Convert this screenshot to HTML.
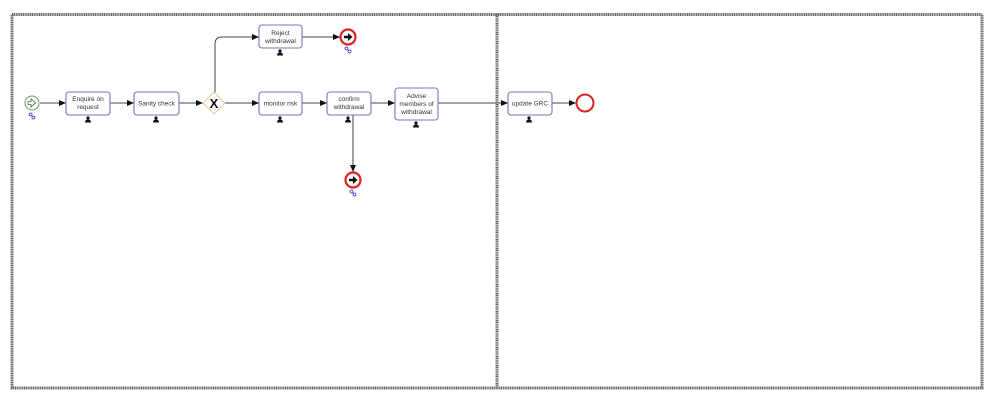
<!DOCTYPE html>
<html><head><meta charset="utf-8"><style>
body{margin:0;background:#fff;width:1000px;height:405px;overflow:hidden}
text{font-family:"Liberation Sans",sans-serif;font-size:6.5px;fill:#333;text-anchor:middle}
</style></head><body>
<svg width="1000" height="405" viewBox="0 0 1000 405">
<defs>
<marker id="a" markerWidth="8" markerHeight="8" refX="7" refY="4" orient="auto" markerUnits="userSpaceOnUse"><path d="M0,1L7,4L0,7z" fill="#111"/></marker>
<g id="p"><circle cx="0" cy="-2" r="1.6" fill="#111"/><path d="M-3,2.5Q-3,-0.5 0,-0.5Q3,-0.5 3,2.5z" fill="#111"/></g>
<g id="lk"><circle cx="-1.5" cy="-1.5" r="1.5" fill="none" stroke="#33c" stroke-width="0.8"/><circle cx="1.5" cy="1.5" r="1.5" fill="none" stroke="#33c" stroke-width="0.8"/></g>
<g id="ee"><circle r="7.5" fill="#fff" stroke="#d22" stroke-width="2.2"/><path d="M-4,-1.3H0V-4L4.5,0L0,4V1.3H-4z" fill="#111"/></g>
</defs>
<rect x="12" y="14.5" width="970" height="373.5" fill="none" stroke="#666" stroke-width="3" stroke-dasharray="1.2 0.6"/>
<line x1="497" y1="14" x2="497" y2="388" stroke="#666" stroke-width="3" stroke-dasharray="1.2 0.6"/>
<g stroke="#444" stroke-width="1" fill="none">
<line x1="40" y1="103" x2="66" y2="103" marker-end="url(#a)"/>
<line x1="110" y1="103" x2="134" y2="103" marker-end="url(#a)"/>
<line x1="179" y1="103" x2="203" y2="103" marker-end="url(#a)"/>
<line x1="225" y1="103" x2="259" y2="103" marker-end="url(#a)"/>
<path d="M215,92V44Q215,37 222,37H259" marker-end="url(#a)"/>
<line x1="302" y1="37" x2="340" y2="37" marker-end="url(#a)"/>
<line x1="302" y1="103" x2="327" y2="103" marker-end="url(#a)"/>
<line x1="371" y1="103" x2="395" y2="103" marker-end="url(#a)"/>
<line x1="353" y1="115" x2="353" y2="172" marker-end="url(#a)"/>
<line x1="438" y1="103" x2="508" y2="103" marker-end="url(#a)"/>
<line x1="552" y1="103" x2="576" y2="103" marker-end="url(#a)"/>
</g>
<circle cx="32" cy="103" r="7" fill="#fff" stroke="#5a5" stroke-width="1"/>
<path d="M28,101.5H31V99L35.5,103L31,107V104.5H28z" fill="#fff" stroke="#555" stroke-width="0.8"/>
<use href="#lk" x="32" y="116"/>
<g fill="#fff" stroke="#7777bb" stroke-width="1.1">
<rect x="66" y="92" width="44" height="23" rx="3"/>
<rect x="134" y="92" width="45" height="23" rx="3"/>
<rect x="259" y="25" width="43" height="23" rx="3"/>
<rect x="259" y="92" width="43" height="23" rx="3"/>
<rect x="327" y="92" width="44" height="23" rx="3"/>
<rect x="395" y="88" width="43" height="32" rx="3"/>
<rect x="508" y="92" width="44" height="23" rx="3"/>
</g>
<text x="88" y="101">Enquire on</text><text x="88" y="109">request</text>
<text x="156.5" y="105.5">Sanity check</text>
<text x="280.5" y="35">Reject</text><text x="280.5" y="43">withdrawal</text>
<text x="280.5" y="105.5">monitor risk</text>
<text x="349" y="101">confirm</text><text x="349" y="109">withdrawal</text>
<text x="416.5" y="98">Advise</text><text x="416.5" y="106">members of</text><text x="416.5" y="114">withdrawal</text>
<text x="530" y="105.5">update GRC</text>
<use href="#p" x="88" y="120"/><use href="#p" x="156" y="120"/><use href="#p" x="280" y="53"/>
<use href="#p" x="280" y="120"/><use href="#p" x="348" y="120"/><use href="#p" x="416" y="125"/><use href="#p" x="529" y="120"/>
<path d="M214,92L225,103L214,114L203,103z" fill="#fff" stroke="#e8c9a0" stroke-width="1"/>
<text x="214" y="108" style="font-size:13px;font-weight:bold;fill:#111">X</text>
<use href="#ee" x="348" y="37"/><use href="#lk" x="348" y="50"/>
<use href="#ee" x="353" y="180"/><use href="#lk" x="353" y="193"/>
<circle cx="585" cy="103" r="8.5" fill="#fff" stroke="#d22" stroke-width="2"/>
</svg>
</body></html>
